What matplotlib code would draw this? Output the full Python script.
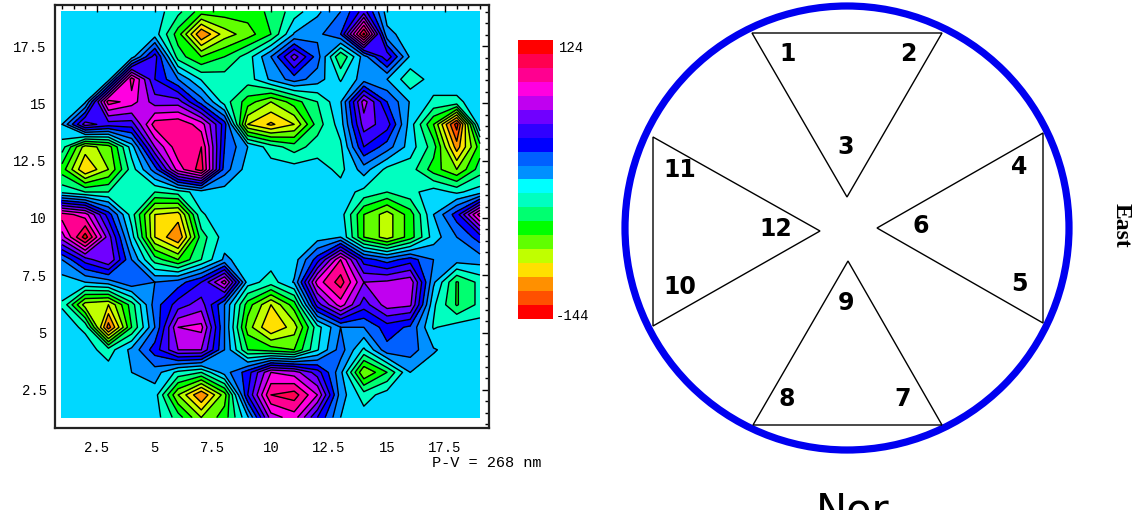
import numpy as np
import matplotlib
matplotlib.use("Agg")
import matplotlib.pyplot as plt
from matplotlib.colors import ListedColormap, BoundaryNorm
from matplotlib.patches import Circle, Polygon
from matplotlib.ticker import MultipleLocator

W, H = 1140, 515

x_grid = list(range(1, 20))
y_grid = np.linspace(19, 1.3, 19)

# surface, in contour steps above the background band (top row first)
surface = np.array([
    [0, 0, 0, 0, 0, -1.2, -3, -3, -3, -2.3, -1, 0.3, 1.5, 4, 0, 0, 0, 0, 0],
    [0, 0, 0, 0, 0, -3, -7.5, -5, -4, -2.5, 0.6, 1.2, 2.5, 9.8, 0.8, 0, 0, 0, 0],
    [0, 0, 0, 0, 4, -2, -3.5, -2.5, -1, 1.5, 5, 2, -2.5, 1, 4.2, 0.3, 0, 0, 0],
    [0, 0, 0, 8, 3.5, 1.5, -0.6, -1, -1, 0.7, 2, 1, -0.6, 1, 0.5, -1.2, 0, 0, 0],
    [0, 0.3, 8, 7, 5, 5, 2, -1, -3, -4.5, -3, -1.5, 0.4, 6, 2.5, 0.4, -0.7, -0.7, 0],
    [0.5, 5, 4, 4, 8, 8.3, 7, 3, -5.5, -6.7, -5.5, -2, 0, 5, 4, 0, -3.5, -9, 0.5],
    [-1, -5, -4, 0, 5.5, 8.2, 8.5, 2.5, 0.5, -1, -2, -1, -0.7, 3.5, 2, 0, -2, -7, -3],
    [-3, -6.5, -4.5, -1, 2, 7, 9, 2, 0, 0, 0, 0, -0.8, 1, -0.8, -1, -3, -4.5, -2],
    [-0.8, -1.5, -1.5, -0.6, -1.5, -1, 0, 0, 0, 0, 0, 0, 0, -0.8, -1.5, -0.8, 0, -0.7, 0],
    [8, 7, 3, -1, -5.5, -6, -0.6, 0, 0, 0, 0, 0, 0, -3.5, -5, -3, 0.5, 3, 8],
    [6, 10, 5, 0, -5.5, -7.5, -2, 0, 0, 0, 0, 0, 0.5, -3.5, -5, -3, 0, 1.5, 3],
    [1.5, 4, 5.5, 1.5, -2, -3.5, -1.5, 0.7, 0, 0, 0, 3, 7.5, 3, 2, 3, 1.5, 1, 1],
    [0, 0.5, 1, 2.3, 1.5, 2, 3.5, 7, 0, -1, 0.6, 7, 9, 5.5, 5.7, 6.2, 0.7, -2.6, -1.2],
    [-0.6, -5, -5.5, -2, 2, 4, 5, 1.5, -3, -5.5, -3, 4, 7, 4, 6, 5.7, -0.3, -2.6, -1.2],
    [0, -0.7, -8, -2.5, 1.5, 6.5, 6.8, 1.5, -4, -6.5, -5, -0.9, 1.5, 1.5, 3, 2.3, -0.6, 0, 0],
    [0, 0, -1, 0.8, 3, 5.5, 5.5, 1.5, -2.5, -3, -3.5, -0.6, 2, -0.7, 2.2, 2, 0.6, 0, 0],
    [0, 0, 0, 0.5, 1, -0.8, -1.5, 1, 3, 6.5, 6, 4, 0.8, -4.5, -2.5, 0.5, 0, 0, 0],
    [0, 0, 0, 0, 0, -4.5, -7.5, -4, 3.5, 8.5, 9, 6.5, 1, -1, 0, 0, 0, 0, 0],
    [0, 0, 0, 0, 0, -2, -4.5, -3, 0.3, 6, 7, 3.5, 0.5, 0, 0, 0, 0, 0, 0],
])
# one step is (124 + 144) / 20 nm
z_nm = -16.7 + 13.4 * surface
levels = np.linspace(-144, 124, 21)

low_colors = ["#ff0000", "#ff5000", "#ff9000", "#ffe000", "#c0ff00", "#60ff00", "#00ff00",
              "#00ff70", "#00ffc0"]
high_colors = ["#0090ff", "#0060ff", "#0000ff", "#3000ff", "#7000ff", "#c000f0", "#ff00e0",
               "#ff0090", "#ff0050", "#ff0000"]
map_cmap = ListedColormap(low_colors + ["#00d8ff"] + high_colors)
bar_cmap = ListedColormap(low_colors + ["#00ffff"] + high_colors)
norm = BoundaryNorm(levels, 20)

tick_vals = [2.5, 5, 7.5, 10, 12.5, 15, 17.5]
tick_labels = ["2.5", "5", "7.5", "10", "12.5", "15", "17.5"]

# sensor layout of the right hand diagram
circle_center = (847, 228)
circle_radius = 222
triangles = [
    [(752, 33), (942, 33), (847, 197)],
    [(1043, 133), (1043, 323), (877, 228)],
    [(848, 261), (942, 425), (753, 425)],
    [(653, 137), (653, 326), (820, 231)],
]
seg_labels = ["1", "2", "3", "4", "5", "6", "7", "8", "9", "10", "11", "12"]
seg_x = [788, 908, 846, 1019, 1019, 921, 903, 787, 846, 680, 680, 776]
seg_y = [54, 54, 147, 167, 284, 226, 399, 399, 303, 287, 170, 229]


def px_axes(fig, left, top, right, bottom):
    return fig.add_axes([left / W, 1 - bottom / H, (right - left) / W, (bottom - top) / H])


fig = plt.figure(figsize=(W / 100, H / 100), dpi=100)

ax = px_axes(fig, 55, 5, 489, 428)
ax.contourf(x_grid, y_grid, z_nm, levels=levels, cmap=map_cmap, norm=norm)
ax.contour(x_grid, y_grid, z_nm, levels=levels, colors="k", linewidths=1.0, linestyles="solid")
ax.set_xlim(0.7, 19.39)
ax.set_ylim(0.84, 19.29)
ax.set_xticks(tick_vals)
ax.set_xticklabels(tick_labels)
ax.set_yticks(tick_vals)
ax.set_yticklabels(tick_labels)
ax.xaxis.set_minor_locator(MultipleLocator(0.5))
ax.yaxis.set_minor_locator(MultipleLocator(0.5))
ax.tick_params(which="both", direction="in", top=True, right=True, left=False, bottom=False)
ax.tick_params(which="major", length=5, width=1)
ax.tick_params(which="minor", length=3, width=1)
ax.tick_params(axis="x", which="major", pad=9)
ax.tick_params(axis="y", which="major", pad=6)
for lab in ax.get_xticklabels() + ax.get_yticklabels():
    lab.set_family("Liberation Mono")
    lab.set_fontsize(10)
for s in ax.spines.values():
    s.set_linewidth(1.6)
    s.set_color("#222222")

cax = px_axes(fig, 518, 40, 553, 319)
cax.pcolormesh([0, 1], levels, (levels[:-1] + levels[1:]).reshape(-1, 1) / 2, cmap=bar_cmap, norm=norm)
cax.axis("off")

# overlay in pixel coordinates for the diagram and free text
d = fig.add_axes([0, 5 / H, 1, 510 / H])
d.set_xlim(0, W)
d.set_ylim(510, 0)
d.axis("off")
d.patch.set_alpha(0)

d.add_patch(Circle(circle_center, circle_radius, fill=False, ec="#0000f0", lw=5.2))
for tri in triangles:
    d.add_patch(Polygon(tri, closed=True, fill=False, ec="k", lw=1))
for lab, x, y in zip(seg_labels, seg_x, seg_y):
    d.text(x, y, lab, ha="center", va="center", fontsize=17, fontweight="bold", family="DejaVu Sans")

d.text(572, 48, "124", ha="center", va="center", fontsize=10, family="Liberation Mono")
d.text(572, 316, "-144", ha="center", va="center", fontsize=10, family="Liberation Mono")
d.text(487, 463, "P-V = 268 nm", ha="center", va="center", fontsize=11, family="Liberation Mono")
d.text(1121, 225, "East", ha="center", va="center", rotation=270, fontsize=17, fontweight="bold",
       family="Liberation Serif")
d.text(853, 490, "Nor", ha="center", va="top", fontsize=30, family="DejaVu Sans", clip_on=True)

fig.savefig("out.png", dpi=100)
